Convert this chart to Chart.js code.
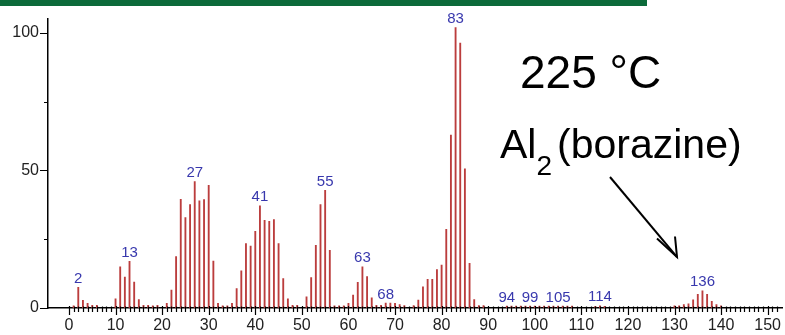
<!DOCTYPE html>
<html>
<head>
<meta charset="utf-8">
<script src="https://cdn.jsdelivr.net/npm/chart.js@4.4.0/dist/chart.umd.min.js"></script>
<style>
body { margin: 0; background: #fff; }
#wrap { position: relative; width: 785px; height: 335px; overflow: hidden; font-family: "Liberation Sans", Arial, sans-serif; }
#ms { position: absolute; left: 0; top: 0; }
#topbar { position: absolute; left: 0; top: 0; width: 647px; height: 6px; background: #0c6a3a; }
.note { position: absolute; color: #000; white-space: nowrap; }
#arrow { position: absolute; left: 0; top: 0; }
</style>
</head>
<body>
<div id="wrap">
  <canvas id="ms" width="785" height="335"></canvas>
  <div id="topbar"></div>
  <div class="note" style="left:520px;top:49px;font-size:46px;line-height:46px">225 °C</div>
  <div class="note" style="left:500px;top:124px;font-size:41px;line-height:41px">Al<span style="font-size:28px;position:relative;top:17px;margin-right:5px">2</span>(borazine)</div>
  <svg id="arrow" width="785" height="335">
    <line x1="610" y1="177" x2="677" y2="257" stroke="#000" stroke-width="2"/>
    <polyline points="657,238.5 677,257 675,236.5" fill="none" stroke="#000" stroke-width="2"/>
  </svg>
</div>
<script>
// mass spectrum, 225 C
var massNumbers = [1, 2, 3, 4, 5, 6, 10, 11, 12, 13, 14, 15, 16, 17, 18, 19, 21, 22, 23, 24,
  25, 26, 27, 28, 29, 30, 31, 32, 33, 34, 35, 36, 37, 38, 39, 40, 41, 42, 43, 44,
  45, 46, 47, 48, 49, 51, 52, 53, 54, 55, 56, 57, 58, 59, 60, 61, 62, 63, 64, 65,
  66, 67, 68, 69, 70, 71, 72, 74, 75, 76, 77, 78, 79, 80, 81, 82, 83, 84, 85, 86,
  87, 88, 89, 94, 95, 96, 97, 98, 99, 100, 101, 102, 103, 104, 105, 106, 107, 108,
  113, 114, 115, 130, 131, 132, 133, 134, 135, 136, 137, 138, 139, 140];
var intensity = [0.8, 7.5, 2.8, 1.7, 1.0, 1.0, 3.3, 15.0, 11.2, 17.0, 9.4, 3.1, 1.0, 1.0, 0.8, 1.0, 1.7, 6.5, 18.7, 39.5,
  32.9, 37.6, 46.0, 39.0, 39.4, 44.6, 17.1, 1.7, 0.8, 0.8, 1.7, 7.1, 13.5, 23.4, 22.5, 27.9, 37.1, 31.9, 31.5, 32.1,
  23.4, 10.7, 3.3, 1.0, 1.0, 4.1, 11.1, 22.8, 37.6, 42.8, 21.0, 0.8, 0.8, 0.8, 1.7, 4.7, 9.3, 15.0, 11.4, 3.7,
  1.0, 1.0, 1.8, 1.8, 1.7, 1.2, 0.9, 0.9, 2.9, 7.7, 10.4, 10.4, 14.0, 15.6, 28.6, 62.9, 101.9, 96.3, 50.6, 16.2,
  3.1, 0.9, 0.9, 0.7, 0.7, 0.7, 0.7, 0.7, 0.7, 0.7, 0.7, 0.7, 0.7, 0.7, 0.7, 0.7, 0.7, 0.7,
  0.6, 0.8, 0.6, 0.8, 0.8, 1.2, 1.5, 3.0, 5.0, 6.2, 5.0, 2.4, 1.2, 0.8];
var peakLabels = [2, 13, 27, 41, 55, 63, 68, 83, 94, 99, 105, 114, 136];
var yTicks = [0, 25, 50, 75, 100];
var yLabelled = [0, 50, 100];

var xTicks = [];
for (var t = 0; t <= 152; t++) xTicks.push(t);

var tickMarks = {
  id: 'tickMarks',
  afterDraw: function (chart) {
    var ctx = chart.ctx, xs = chart.scales.x, ys = chart.scales.y, area = chart.chartArea;
    ctx.save();
    ctx.strokeStyle = '#000';
    ctx.lineWidth = 1.2;
    ctx.beginPath();
    for (var i = 0; i < xTicks.length; i++) {
      var px = Math.round(xs.getPixelForValue(xTicks[i])) + 0.5;
      var major = xTicks[i] % 10 === 0;
      ctx.moveTo(px, area.bottom - (major ? 2 : 1.5));
      ctx.lineTo(px, area.bottom + (major ? 7 : 4));
    }
    for (var j = 0; j < yTicks.length; j++) {
      var py = Math.round(ys.getPixelForValue(yTicks[j])) + 0.5;
      var big = yLabelled.indexOf(yTicks[j]) >= 0;
      ctx.moveTo(area.left - (big ? 8 : 4), py);
      ctx.lineTo(area.left, py);
    }
    ctx.stroke();
    ctx.restore();
  }
};

var peakMarks = {
  id: 'peakMarks',
  afterDatasetsDraw: function (chart) {
    var ctx = chart.ctx, xs = chart.scales.x, ys = chart.scales.y;
    ctx.save();
    ctx.font = '15px "Liberation Sans", Arial, sans-serif';
    ctx.fillStyle = '#3838ad';
    ctx.textAlign = 'center';
    ctx.textBaseline = 'alphabetic';
    for (var i = 0; i < peakLabels.length; i++) {
      var m = peakLabels[i];
      var v = intensity[massNumbers.indexOf(m)];
      ctx.fillText(String(m), xs.getPixelForValue(m), ys.getPixelForValue(v) - 4.5);
    }
    ctx.restore();
  }
};

new Chart(document.getElementById('ms').getContext('2d'), {
  type: 'bar',
  data: {
    datasets: [{
      data: massNumbers.map(function (m, i) { return { x: m, y: intensity[i] }; }),
      backgroundColor: '#bb3d3d',
      borderWidth: 0,
      barThickness: 1.2
    }]
  },
  options: {
    responsive: false,
    animation: false,
    devicePixelRatio: 1,
    layout: { padding: { top: 18, right: 2, left: 0, bottom: 0 } },
    plugins: { legend: { display: false }, tooltip: { enabled: false } },
    scales: {
      x: {
        type: 'linear',
        bounds: 'data',
        min: -4.5,
        max: 153.2,
        offset: false,
        grid: { display: false, drawTicks: false },
        border: { display: true, color: '#000', width: 1.5 },
        afterBuildTicks: function (s) { s.ticks = xTicks.map(function (v) { return { value: v }; }); },
        afterFit: function (s) { s.height = 27; },
        ticks: {
          autoSkip: false,
          maxRotation: 0,
          padding: 8,
          color: '#222',
          font: { family: '"Liberation Sans", Arial, sans-serif', size: 16 },
          callback: function (v) { return v % 10 === 0 ? String(v) : ''; }
        }
      },
      y: {
        type: 'linear',
        bounds: 'data',
        min: 0,
        max: 105.2,
        grid: { display: false, drawTicks: false },
        border: { display: true, color: '#000', width: 1.5 },
        afterBuildTicks: function (s) { s.ticks = yTicks.map(function (v) { return { value: v }; }); },
        afterFit: function (s) { s.width = 48; },
        ticks: {
          padding: 9,
          color: '#222',
          font: { family: '"Liberation Sans", Arial, sans-serif', size: 16 },
          callback: function (v) { return yLabelled.indexOf(v) >= 0 ? String(v) : ''; }
        }
      }
    }
  },
  plugins: [tickMarks, peakMarks]
});
</script>
</body>
</html>
